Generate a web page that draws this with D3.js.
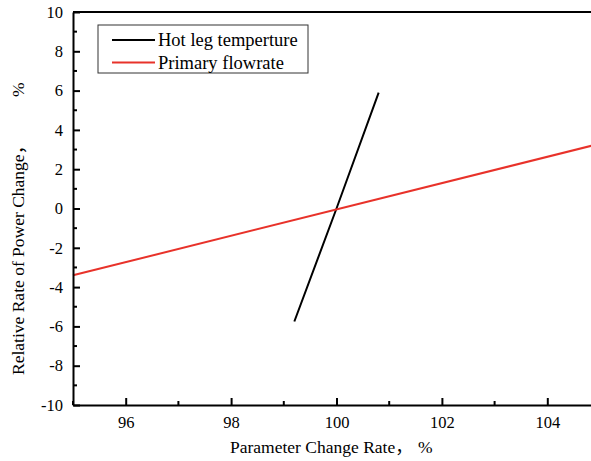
<!DOCTYPE html>
<html>
<head>
<meta charset="utf-8">
<script src="https://cdn.jsdelivr.net/npm/d3@7"></script>
<style>
body{margin:0;background:#fff;}
svg{display:block;}
</style>
</head>
<body>
<svg id="chart" width="591" height="461"></svg>
<script>
// values
var hotLegX = [99.2, 100, 100.8];
var hotLegY = [-5.75, 0, 5.9];
var flowX = [95, 105];
var flowY = [-3.4, 3.3];
var xMajor = [96, 98, 100, 102, 104];
var xMinor = [95, 97, 99, 101, 103, 105];
var yMajor = [-10, -8, -6, -4, -2, 0, 2, 4, 6, 8, 10];
var yMinor = [-9, -7, -5, -3, -1, 1, 3, 5, 7, 9];
var seriesNames = ['Hot leg temperture', 'Primary flowrate'];
var seriesColors = ['#000000', '#e8322a'];

(function(){
	'use strict';
	var serif = '"Liberation Serif", "Noto Sans CJK SC", serif';
	var pLeft = 73, pTop = 12, pRight = 600, pBottom = 405;
	var svg = d3.select('#chart');
	var x = d3.scaleLinear().domain([95, 105]).range([pLeft, pRight]);
	var y = d3.scaleLinear().domain([-10, 10]).range([pBottom, pTop]);

	var series = [
		d3.zip(hotLegX, hotLegY),
		d3.zip(flowX, flowY)
	];

	var line = d3.line().x(d => x(d[0])).y(d => y(d[1]));
	svg.selectAll('path.series')
		.data(series)
		.enter()
		.append('path')
		.attr('class', 'series')
		.attr('d', line)
		.attr('fill', 'none')
		.attr('stroke', (d, i) => seriesColors[i])
		.attr('stroke-width', 2);

	// frame top
	svg.append('line')
		.attr('x1', pLeft).attr('x2', pRight)
		.attr('y1', pTop).attr('y2', pTop)
		.attr('stroke', '#000').attr('stroke-width', 2);

	// bottom axis
	var xAxis = svg.append('g').attr('transform', 'translate(0,' + pBottom + ')');
	xAxis.call(d3.axisBottom(x).tickValues(xMajor).tickSizeInner(-7).tickSizeOuter(0).tickPadding(11).tickFormat(d => String(d)));
	xAxis.append('g').selectAll('line').data(xMinor).enter().append('line')
		.attr('x1', d => x(d)).attr('x2', d => x(d)).attr('y1', 0).attr('y2', -4)
		.attr('stroke', '#000').attr('stroke-width', 2);

	var yAxis = svg.append('g').attr('transform', 'translate(' + pLeft + ',0)');
	yAxis.call(d3.axisLeft(y).tickValues(yMajor).tickSizeInner(-7).tickSizeOuter(0).tickPadding(10).tickFormat(d => String(d)));
	yAxis.append('g').selectAll('line').data(yMinor).enter().append('line')
		.attr('y1', d => y(d)).attr('y2', d => y(d)).attr('x1', 0).attr('x2', 4)
		.attr('stroke', '#000').attr('stroke-width', 2);

	svg.selectAll('.domain').attr('stroke', '#000').attr('stroke-width', 2);
	svg.selectAll('.tick line').attr('stroke', '#000').attr('stroke-width', 2);
	svg.selectAll('.tick text')
		.attr('fill', '#000')
		.style('font-family', serif)
		.style('font-size', '16.5px');

	// axis titles
	var xt = svg.append('text')
		.attr('transform', 'translate(230,453)')
		.attr('font-family', serif)
		.attr('font-size', 17.5);
	xt.append('tspan').attr('x', 0).text('Parameter Change Rate，');
	xt.append('tspan').attr('x', 188).text('%');

	var yt = svg.append('text')
		.attr('transform', 'translate(24,375) rotate(-90)')
		.attr('font-family', serif)
		.attr('font-size', 17.5);
	yt.append('tspan').attr('x', 0).text('Relative Rate of Power Change，');
	yt.append('tspan').attr('x', 278).text('%');

	// legend
	var legend = svg.append('g').attr('transform', 'translate(98,25)');
	legend.append('rect')
		.attr('width', 210).attr('height', 48)
		.attr('fill', '#fff').attr('stroke', '#333').attr('stroke-width', 1);
	legend.selectAll('g.item')
		.data(seriesNames)
		.enter()
		.append('g')
		.attr('class', 'item')
		.each(function(d, i){
			var g = d3.select(this).attr('transform', 'translate(0,' + (15 + i * 22.5) + ')');
			g.append('line')
				.attr('x1', 14).attr('x2', 57)
				.attr('stroke', seriesColors[i]).attr('stroke-width', 2);
			g.append('text')
				.attr('x', 60).attr('y', 6)
				.attr('font-family', serif)
				.attr('font-size', 18.5)
				.text(d);
		});
})();
</script>
</body>
</html>
